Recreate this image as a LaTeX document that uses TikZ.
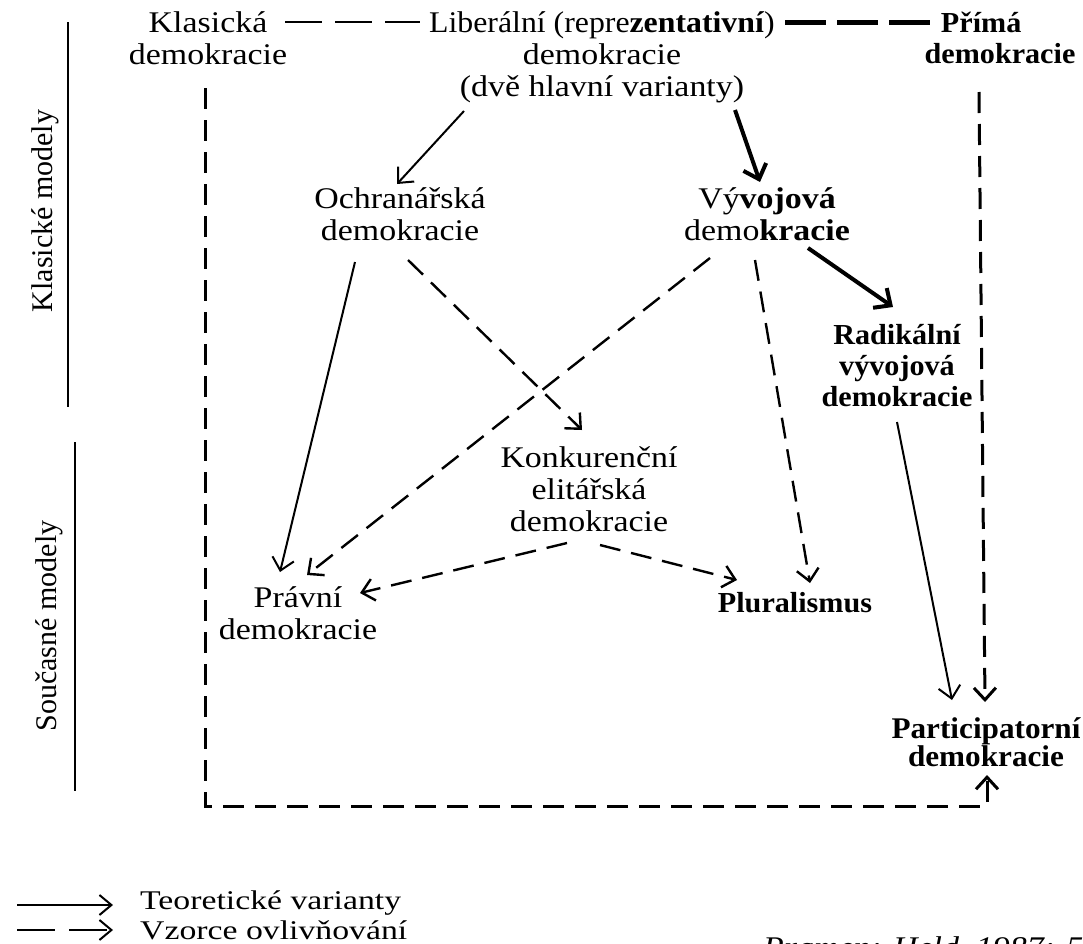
\documentclass[tikz,border=0pt]{standalone}
\usepackage{fontspec}
\setmainfont{Liberation Serif}[FakeStretch=1.13]
\newfontfamily\bfam{Liberation Serif}[FakeStretch=1.04]
\newfontfamily\legfam{Liberation Serif}[FakeStretch=1.25]
\newfontfamily\midfam{Liberation Serif}[FakeStretch=1.06]
\newfontfamily\plainfam{Liberation Serif}
\usetikzlibrary{arrows.meta,calc}
\begin{document}
\begin{tikzpicture}[x=1pt,y=-1pt,
  txt/.style={font=\fontsize{30}{32}\selectfont, align=center, inner sep=0pt},
  btxt/.style={font=\bfam\bfseries\fontsize{29}{31}\selectfont, align=center, inner sep=0pt},
  side/.style={font=\plainfam\fontsize{30}{30}\selectfont, inner sep=0pt, rotate=90},
  tip/.style={-{Straight Barb[length=12pt,width=22pt]}},
  sol/.style={line width=2pt, tip},
  thk/.style={line width=4pt, -{Straight Barb[length=13pt,width=24pt]}},
  dsh/.style={line width=2.4pt, dash pattern=on 21pt off 11pt, tip},
  topdsh/.style={line width=2pt, dash pattern=on 37pt off 13pt},
  topthk/.style={line width=5pt, dash pattern=on 41pt off 11pt},
  rule/.style={line width=1.6pt},
  leg/.style={font=\legfam\fontsize{27}{27}\selectfont, inner sep=0pt, anchor=west}
]
\useasboundingbox (0,0) rectangle (1083,943);
\fill[white] (0,0) rectangle (1083,943);

% side labels
\node[side] (lab1) at (45,211) {Klasické modely};
\node[side] (lab2) at (49,626) {Současné modely};
\draw[rule] (68,22) -- (68,407);
\draw[rule] (75,442) -- (75,791);

% nodes
\node[txt] (klas) at (208,38) {Klasická\\demokracie};
\node[txt] (lib) at (602,57) {{\midfam Liberální (repre\textbf{zentativní})}\\demokracie\\(dvě hlavní varianty)};
\node[btxt] (prima) at (1000,38) {Přímá\hspace*{1.3em}\\demokracie};
\node[txt] (ochr) at (400,214) {Ochranářská\\demokracie};
\node[txt] (vyv) at (767,214) {Vý\textbf{vojová}\\demo\textbf{kracie}};
\node[btxt] (rad) at (897,366) {Radikální\\vývojová\\demokracie};
\node[txt] (konk) at (589,489) {Konkurenční\\elitářská\\demokracie};
\node[txt] (pravni) at (298,613) {Právní\\demokracie};
\node[btxt] (plur) at (795,603) {Pluralismus};
\node[btxt, font=\bfam\bfseries\fontsize{30}{28}\selectfont] (part) at (986,742) {Participatorní\\demokracie};

% top dashes
\draw[topdsh] ($(klas)+(77,-16)$) -- ($(lib)+(-182,-35)$);
\draw[topthk] ($(lib)+(183,-35)$) -- ($(prima)+(-70,-16)$);

% theoretical variants (solid)
\draw[sol] ($(lib)+(-138,54)$) -- ($(ochr)+(-3,-30)$);
\draw[thk] ($(lib)+(133,53)$) -- ($(vyv)+(-7,-32)$);
\draw[thk] ($(vyv)+(41,34)$) -- ($(rad)+(-4,-59)$);
\draw[sol] ($(ochr)+(-45,48)$) -- ($(pravni)+(-18,-41)$);
\draw[sol] ($(rad)+(0,56)$) -- ($(part)+(-34,-42)$);

% patterns of influence (dashed)
\draw[dsh] ($(ochr)+(8,46)$) -- ($(konk)+(-7,-59)$);
\draw[dsh] ($(vyv)+(-57,44)$) -- ($(pravni)+(9,-38)$);
\draw[dsh] ($(vyv)+(-12,46)$) -- ($(plur)+(15,-20)$);
\draw[dsh] ($(konk)+(-22,54)$) -- ($(pravni)+(62,-20)$);
\draw[dsh] ($(konk)+(11,56)$) -- ($(plur)+(-58,-23)$);
\draw[dsh, line width=3pt] ($(prima)+(-21,54)$) -- ($(part)+(-1,-40)$);
\draw[dsh, line width=3pt] ($(klas)+(-3,50)$) -- ($(klas)+(-3,768)$) -| ($(part)+(1,33)$);

% legend
\coordinate (l1a) at (17,905);
\coordinate (l1b) at (113,905);
\coordinate (l2a) at (17,930);
\coordinate (l2b) at (113,930);
\draw[line width=2pt, -{Straight Barb[length=12pt,width=20pt]}] (l1a) -- (l1b);
\draw[line width=2pt, dash pattern=on 38pt off 14pt, -{Straight Barb[length=12pt,width=20pt]}] (l2a) -- (l2b);
\node[leg] (leg1) at (140,903) {Teoretické varianty};
\node[leg] (leg2) at (140,930) {Vzorce ovlivňování};
\node[font=\fontsize{30}{30}\selectfont\itshape, anchor=base west, inner sep=0pt] (src) at (763,957) {Pramen: Held, 1987: 5};
\end{tikzpicture}
\end{document}
